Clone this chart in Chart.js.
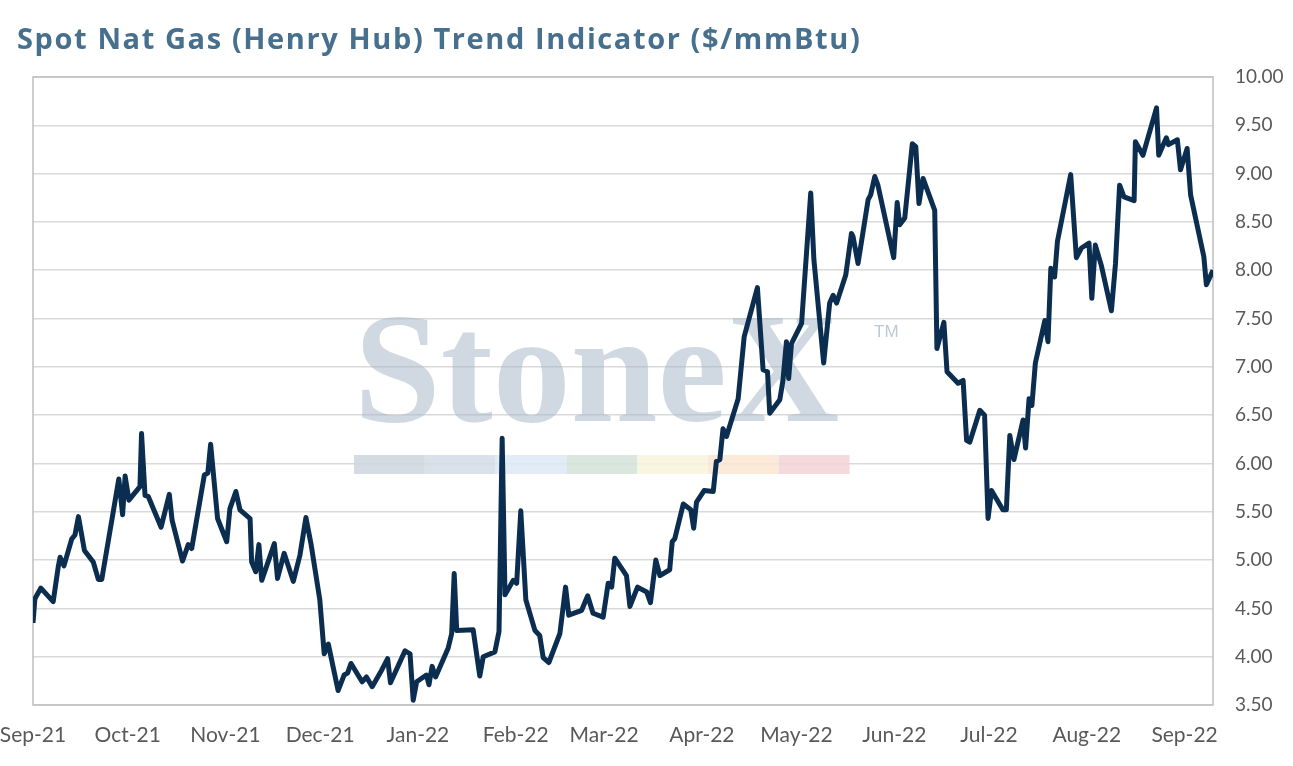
<!DOCTYPE html>
<html>
<head>
<meta charset="utf-8">
<title>Spot Nat Gas (Henry Hub) Trend Indicator</title>
<script src="https://cdn.jsdelivr.net/npm/chart.js@4.4.1/dist/chart.umd.min.js"></script>
<style>
    html, body { margin: 0; padding: 0; background: #ffffff; }
    #wrap { position: relative; width: 1293px; height: 766px; }
</style>
</head>
<body>
<div id="wrap"><canvas id="graph"></canvas></div>
<script>
// days counted from 1-Sep-21
const days = [
    0.0, 0.6, 2.5, 6.4, 8.0, 8.6, 9.8, 12.3, 13.3, 14.4, 16.3, 19.1, 20.7, 21.8, 27.2, 28.4, 29.2, 30.4, 33.9, 34.4,
    35.5, 36.5, 40.6, 43.2, 44.1, 47.4, 49.2, 50.3, 54.3, 55.4, 56.3, 58.5, 61.4, 62.4, 64.3, 65.6, 68.8, 69.3, 70.6, 71.6,
    72.5, 76.5, 77.5, 79.6, 82.5, 84.6, 86.5, 88.1, 90.9, 92.3, 93.6, 96.7, 98.6, 99.7, 100.8, 104.3, 105.7, 107.5, 110.5, 112.4,
    113.3, 117.9, 119.5, 120.5, 121.6, 124.7, 125.5, 126.5, 127.6, 131.6, 132.7, 133.5, 134.3, 139.5, 141.6, 142.7, 146.4, 147.7, 148.7, 149.6,
    152.2, 153.3, 154.6, 156.2, 159.1, 160.6, 161.7, 163.5, 167.0, 168.8, 169.8, 173.9, 175.8, 177.5, 180.7, 182.3, 183.4, 184.4, 188.1, 189.2,
    191.6, 194.5, 195.7, 197.4, 198.7, 201.8, 202.6, 203.4, 206.1, 208.5, 209.4, 210.3, 212.7, 215.6, 216.6, 217.7, 218.7, 219.8, 223.5, 225.4,
    229.6, 231.4, 232.8, 233.5, 236.7, 237.7, 238.8, 239.5, 240.4, 243.6, 246.5, 247.5, 250.6, 252.5, 253.6, 254.7, 257.6, 259.4, 259.9, 261.5,
    264.7, 265.5, 266.8, 267.8, 272.8, 273.9, 274.7, 276.3, 278.7, 279.8, 280.8, 282.1, 285.8, 286.5, 288.7, 289.7, 293.2, 294.8, 295.9, 296.9,
    300.1, 301.6, 302.7, 303.8, 307.4, 308.5, 309.6, 310.9, 313.8, 314.6, 315.7, 316.6, 317.7, 320.7, 321.7, 322.6, 323.8, 324.7, 327.2, 328.9,
    330.7, 332.3, 334.7, 335.6, 336.7, 338.6, 341.8, 343.1, 344.4, 345.8, 349.0, 349.4, 351.8, 356.1, 356.8, 359.2, 359.9, 362.7, 363.7, 365.8,
    366.9, 371.1, 371.9, 374.0
];
const price = [
    4.35, 4.60, 4.71, 4.57, 4.93, 5.03, 4.94, 5.22, 5.26, 5.45, 5.10, 4.98, 4.80, 4.80, 5.84, 5.47, 5.87, 5.62, 5.76, 6.31,
    5.67, 5.66, 5.34, 5.68, 5.41, 4.99, 5.16, 5.12, 5.88, 5.90, 6.20, 5.43, 5.19, 5.53, 5.71, 5.52, 5.43, 4.98, 4.88, 5.16,
    4.79, 5.17, 4.81, 5.07, 4.78, 5.05, 5.44, 5.17, 4.59, 4.03, 4.13, 3.65, 3.81, 3.83, 3.93, 3.74, 3.79, 3.69, 3.86, 3.98,
    3.73, 4.06, 4.03, 3.55, 3.74, 3.81, 3.71, 3.90, 3.79, 4.09, 4.24, 4.86, 4.27, 4.28, 3.80, 4.00, 4.05, 4.26, 6.26, 4.64,
    4.79, 4.76, 5.51, 4.59, 4.27, 4.22, 3.99, 3.94, 4.24, 4.72, 4.43, 4.48, 4.63, 4.45, 4.41, 4.76, 4.72, 5.02, 4.84, 4.52,
    4.72, 4.67, 4.56, 5.00, 4.84, 4.90, 5.19, 5.22, 5.58, 5.52, 5.33, 5.60, 5.72, 5.71, 6.02, 6.04, 6.36, 6.28, 6.67, 7.31,
    7.82, 6.97, 6.95, 6.52, 6.66, 6.86, 7.26, 6.88, 7.24, 7.45, 8.80, 8.11, 7.04, 7.66, 7.74, 7.66, 7.95, 8.38, 8.35, 8.07,
    8.73, 8.78, 8.97, 8.88, 8.13, 8.70, 8.47, 8.54, 9.31, 9.28, 8.69, 8.95, 8.62, 7.19, 7.46, 6.95, 6.83, 6.86, 6.24, 6.22,
    6.55, 6.50, 5.43, 5.72, 5.52, 5.52, 6.29, 6.04, 6.45, 6.16, 6.67, 6.60, 7.04, 7.48, 7.26, 8.02, 7.93, 8.30, 8.71, 8.99,
    8.13, 8.23, 8.28, 7.71, 8.26, 8.05, 7.58, 8.07, 8.88, 8.76, 8.72, 9.33, 9.19, 9.68, 9.19, 9.37, 9.30, 9.35, 9.04, 9.26,
    8.78, 8.14, 7.85, 8.00
];

// month ticks on the x axis
const monthDays = [0, 30, 61, 91, 122, 153, 181, 212, 242, 273, 303, 334, 365];
const monthLabels = ['Sep-21', 'Oct-21', 'Nov-21', 'Dec-21', 'Jan-22', 'Feb-22', 'Mar-22',
    'Apr-22', 'May-22', 'Jun-22', 'Jul-22', 'Aug-22', 'Sep-22'];

const titleText = 'Spot Nat Gas (Henry Hub) Trend Indicator ($/mmBtu)';
const logoText = 'StoneX';
const logoColors = ['#cdd5de', '#d3dce7', '#dde9f4', '#d3e3d8', '#f7f4da', '#f9e6d0', '#f2d4d6'];

// title, box and watermark
const decor = {
    id: 'decor',
    beforeDatasetsDraw(chart) {
        const ctx = chart.ctx;
        const a = chart.chartArea;
        ctx.save();
        // watermark
        ctx.fillStyle = 'rgba(165,181,199,0.52)';
        ctx.font = 'bold 156px "Liberation Serif"';
        ctx.textBaseline = 'alphabetic';
        ctx.fillText(logoText, 354, 421);
        ctx.fillStyle = 'rgba(165,181,199,0.75)';
        ctx.font = '17px "Liberation Sans"';
        ctx.fillText('TM', 874, 337);
        const bw = 70.8;
        logoColors.forEach((c, i) => {
            ctx.globalAlpha = 0.85;
            ctx.fillStyle = c;
            ctx.fillRect(354 + i * bw, 455, bw, 19);
        });
        ctx.globalAlpha = 1;
        // plot box
        ctx.strokeStyle = '#bfbfbf';
        ctx.lineWidth = 1.5;
        ctx.strokeRect(a.left, a.top, a.right - a.left, a.bottom - a.top);
        ctx.restore();
    },
    afterDraw(chart) {
        const ctx = chart.ctx;
        ctx.save();
        ctx.fillStyle = '#47708e';
        ctx.font = 'bold 29px "Open Sans"';
        ctx.letterSpacing = '1.6px';
        ctx.textBaseline = 'alphabetic';
        ctx.fillText(titleText, 17, 49);
        ctx.restore();
    }
};

const ctx = document.getElementById('graph').getContext('2d');
new Chart(ctx, {
    type: 'line',
    data: {
        datasets: [{
            label: 'Henry Hub',
            data: days.map((d, i) => ({ x: d, y: price[i] })),
            borderColor: '#0b2e50',
            borderWidth: 5,
            borderJoinStyle: 'round',
            pointRadius: 0,
            tension: 0,
            fill: false
        }]
    },
    options: {
        responsive: true,
        maintainAspectRatio: false,
        animation: false,
        devicePixelRatio: 1,
        layout: { padding: { top: 77, left: 33, right: 0, bottom: 0 } },
        plugins: {
            legend: { display: false },
            tooltip: { enabled: false }
        },
        scales: {
            x: {
                type: 'linear',
                min: 0,
                max: 374,
                afterBuildTicks: axis => { axis.ticks = monthDays.map(v => ({ value: v })); },
                afterFit: scale => {
                    scale.height = 61;
                    scale.paddingLeft = 0;
                    scale.paddingRight = 0;
                },
                grid: { display: false },
                border: { display: false },
                ticks: {
                    autoSkip: false,
                    maxRotation: 0,
                    padding: 10,
                    color: '#595959',
                    font: { family: 'Lato', size: 21 },
                    callback: v => monthLabels[monthDays.indexOf(v)]
                }
            },
            y: {
                position: 'right',
                min: 3.5,
                max: 10,
                afterFit: scale => { scale.width = 80; },
                grid: { color: '#d9d9d9', lineWidth: 1.5, drawTicks: false },
                border: { display: false },
                ticks: {
                    stepSize: 0.5,
                    padding: 22,
                    color: '#595959',
                    font: { family: 'Lato', size: 19 },
                    callback: v => v.toFixed(2)
                }
            }
        }
    },
    plugins: [decor]
});
</script>
</body>
</html>
